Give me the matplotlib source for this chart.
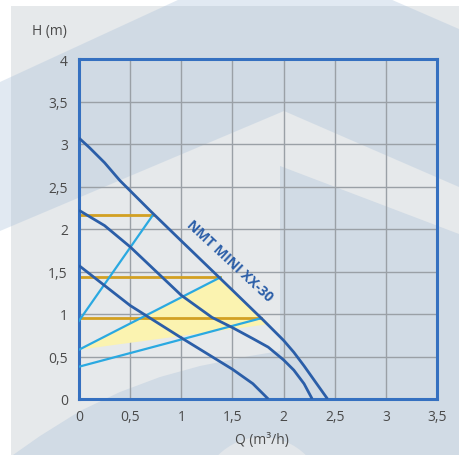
import matplotlib.pyplot as plt
from matplotlib.patches import Polygon, Rectangle, Circle

plt.rcParams['font.family'] = ['Open Sans', 'DejaVu Sans']

# pump curves (Q in m3/h, H in m)
q_speed3 = [0, 0.1, 0.25, 0.4, 0.5, 0.7, 1.0, 1.5, 1.8, 2.0, 2.1, 2.2, 2.3, 2.43]
h_speed3 = [3.07, 2.96, 2.78, 2.57, 2.45, 2.21, 1.86, 1.28, 0.93, 0.69, 0.55, 0.39, 0.22, 0]
q_speed2 = [0, 0.25, 0.5, 1.0, 1.3, 1.5, 1.7, 1.85, 2.0, 2.1, 2.2, 2.28]
h_speed2 = [2.22, 2.04, 1.79, 1.22, 0.96, 0.84, 0.71, 0.61, 0.46, 0.34, 0.18, 0]
q_speed1 = [0, 0.5, 1.0, 1.5, 1.7, 1.85]
h_speed1 = [1.57, 1.10, 0.72, 0.35, 0.18, 0]

# operating points (gold) and system lines (cyan)
op_h = [2.16, 1.43, 0.95]
op_q = [0.72, 1.38, 1.78]
sys_h0 = [0.92, 0.58, 0.38]

# yellow zone
zone_q = [0, 1.38, 1.6, 1.85]
zone_h = [0.58, 1.43, 1.17, 0.88]

ticks_q = [0, 0.5, 1, 1.5, 2, 2.5, 3, 3.5]
ticks_h = [0, 0.5, 1, 1.5, 2, 2.5, 3, 3.5, 4]

DARK = '#2b5ea8'
SPINE = '#3570c0'
GOLD = '#d2a022'
CYAN = '#2aa9e1'

fig = plt.figure(figsize=(4.59, 4.56), dpi=100)

# decorative background, pixel coordinates
bg = fig.add_axes([0, 0, 1, 1], zorder=0)
bg.set_xlim(0, 459)
bg.set_ylim(456, 0)
bg.axis('off')
bg.add_patch(Rectangle((11, 7), 448, 449, color='#e6e9eb', lw=0))
bg.add_patch(Polygon([(0, 83), (180, 0), (390, 0), (459, 30), (459, 188),
                      (284, 112), (0, 232)], color='#a4bdd8', alpha=0.32, lw=0))
bg.add_patch(Polygon([(280, 167), (459, 235), (459, 456), (280, 456)],
                     color='#d1dbe5', lw=0))
bg.add_patch(Polygon([(13, 456), (40, 437), (80, 412), (120, 393), (160, 378),
                      (200, 367), (250, 357), (280, 352), (280, 456)],
                     color='#d1dbe5', lw=0))
bg.add_patch(Circle((262, 500), 62, color='#e2e6ea', lw=0))

ax = fig.add_axes([79 / 459, 56 / 456, 358 / 459, 340 / 456], zorder=1)
ax.set_facecolor('none')
ax.set_xlim(0, 3.5)
ax.set_ylim(0, 4)

ax.fill(zone_q, zone_h, color='#fbf3b0', lw=0, zorder=1)

for h, q, h0 in zip(op_h, op_q, sys_h0):
    ax.plot([0, q], [h, h], color=GOLD, lw=2, zorder=2)
    ax.plot([0, q], [h0, h], color=CYAN, lw=1.6, zorder=3)

for q, h in [(q_speed3, h_speed3), (q_speed2, h_speed2), (q_speed1, h_speed1)]:
    ax.plot(q, h, color=DARK, lw=2, zorder=4, solid_capstyle='butt',
            solid_joinstyle='round')

ax.text(1.47, 1.63, 'NMT MINI XX-30', color=DARK, fontsize=10, fontweight='bold',
        rotation=-43, rotation_mode='anchor', ha='center', va='center', zorder=5)

ax.set_xticks(ticks_q)
ax.set_yticks(ticks_h)
ax.set_xticklabels([f'{t:g}'.replace('.', ',') for t in ticks_q])
ax.set_yticklabels([f'{t:g}'.replace('.', ',') for t in ticks_h])
ax.tick_params(length=0, labelsize=10, labelcolor='#4a4a4a')
ax.tick_params(axis='x', pad=7)
ax.tick_params(axis='y', pad=8)
ax.grid(True, color='#9aa0a6', lw=1, zorder=0)
ax.set_axisbelow(True)
for s in ax.spines.values():
    s.set_color(SPINE)
    s.set_linewidth(2.2)

fig.text(67 / 459, 1 - 31 / 456, 'H (m)', ha='right', va='center',
         fontsize=10, color='#4a4a4a')
fig.text(262 / 459, 1 - 441 / 456, 'Q (m³/h)', ha='center', va='center',
         fontsize=10, color='#4a4a4a')

fig.savefig('out.png', dpi=100)
